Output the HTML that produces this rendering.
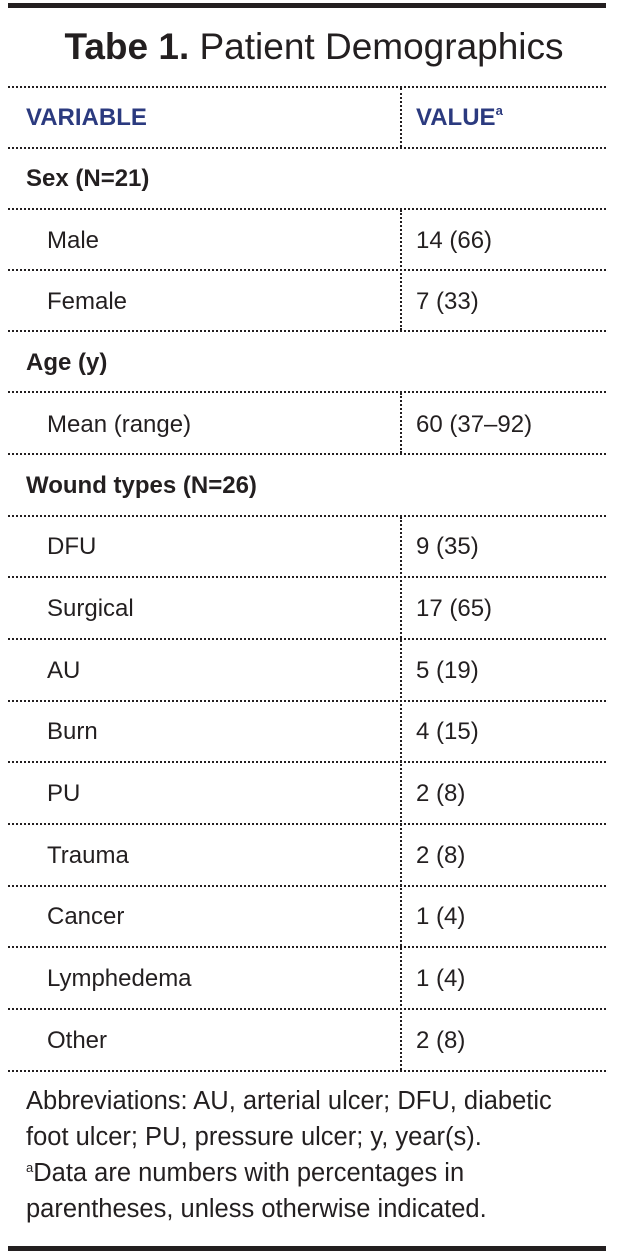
<!DOCTYPE html>
<html><head><meta charset="utf-8"><style>
body{margin:0;width:628px;height:1260px;background:#fff;position:relative;overflow:hidden;font-family:"Liberation Sans",sans-serif;color:#231f20}
.thick{position:absolute;left:8px;width:598px;height:5px;background:#231f20}
.h{position:absolute;left:8px;width:598px;border-top:2px dotted #231f20;height:0}
.v{position:absolute;left:400px;border-left:2px dotted #231f20;width:0}
.t{position:absolute;font-size:24px;white-space:nowrap;line-height:30px}
.b{font-weight:bold}
.hd{color:#2b3a7f;font-weight:bold}
.sp{font-size:13px;position:relative;top:-10px;vertical-align:baseline;line-height:0}
.fn{position:absolute;left:26px;font-size:25.5px;line-height:36px;white-space:nowrap}
</style></head><body>
<div class="thick" style="top:3px"></div>
<div class="t" style="left:0;width:628px;text-align:center;top:26px;font-size:37px;line-height:42px"><b>Tabe 1.</b> Patient Demographics</div>
<div class="h" style="top:86px"></div>
<div class="v" style="top:88px;height:59px"></div>
<div class="t hd" style="left:26px;top:103px">VARIABLE</div>
<div class="t hd" style="left:416px;top:103px">VALUE<span class="sp">a</span></div>
<div class="h" style="top:147px"></div>
<div class="t b" style="left:26px;top:164px">Sex (N=21)</div>
<div class="h" style="top:208px"></div>
<div class="v" style="top:210px;height:120px"></div>
<div class="t" style="left:47px;top:226px">Male</div><div class="t" style="left:416px;top:226px">14 (66)</div>
<div class="h" style="top:269px"></div>
<div class="t" style="left:47px;top:287px">Female</div><div class="t" style="left:416px;top:287px">7 (33)</div>
<div class="h" style="top:330px"></div>
<div class="t b" style="left:26px;top:348px">Age (y)</div>
<div class="h" style="top:391px"></div>
<div class="v" style="top:393px;height:60px"></div>
<div class="t" style="left:47px;top:410px">Mean (range)</div><div class="t" style="left:416px;top:410px">60 (37–92)</div>
<div class="h" style="top:453px"></div>
<div class="t b" style="left:26px;top:471px">Wound types (N=26)</div>
<div class="h" style="top:515px"></div>
<div class="v" style="top:517px;height:553px"></div>
<div class="t" style="left:47px;top:532px">DFU</div><div class="t" style="left:416px;top:532px">9 (35)</div>
<div class="h" style="top:576px"></div>
<div class="t" style="left:47px;top:594px">Surgical</div><div class="t" style="left:416px;top:594px">17 (65)</div>
<div class="h" style="top:638px"></div>
<div class="t" style="left:47px;top:656px">AU</div><div class="t" style="left:416px;top:656px">5 (19)</div>
<div class="h" style="top:700px"></div>
<div class="t" style="left:47px;top:717px">Burn</div><div class="t" style="left:416px;top:717px">4 (15)</div>
<div class="h" style="top:761px"></div>
<div class="t" style="left:47px;top:779px">PU</div><div class="t" style="left:416px;top:779px">2 (8)</div>
<div class="h" style="top:823px"></div>
<div class="t" style="left:47px;top:841px">Trauma</div><div class="t" style="left:416px;top:841px">2 (8)</div>
<div class="h" style="top:885px"></div>
<div class="t" style="left:47px;top:902px">Cancer</div><div class="t" style="left:416px;top:902px">1 (4)</div>
<div class="h" style="top:946px"></div>
<div class="t" style="left:47px;top:964px">Lymphedema</div><div class="t" style="left:416px;top:964px">1 (4)</div>
<div class="h" style="top:1008px"></div>
<div class="t" style="left:47px;top:1026px">Other</div><div class="t" style="left:416px;top:1026px">2 (8)</div>
<div class="h" style="top:1070px"></div>
<div class="fn" style="top:1083px">Abbreviations: AU, arterial ulcer; DFU, diabetic<br>foot ulcer; PU, pressure ulcer; y, year(s).<br><span class="sp" style="top:-9px">a</span>Data are numbers with percentages in<br>parentheses, unless otherwise indicated.</div>
<div class="thick" style="top:1246px"></div>
</body></html>
